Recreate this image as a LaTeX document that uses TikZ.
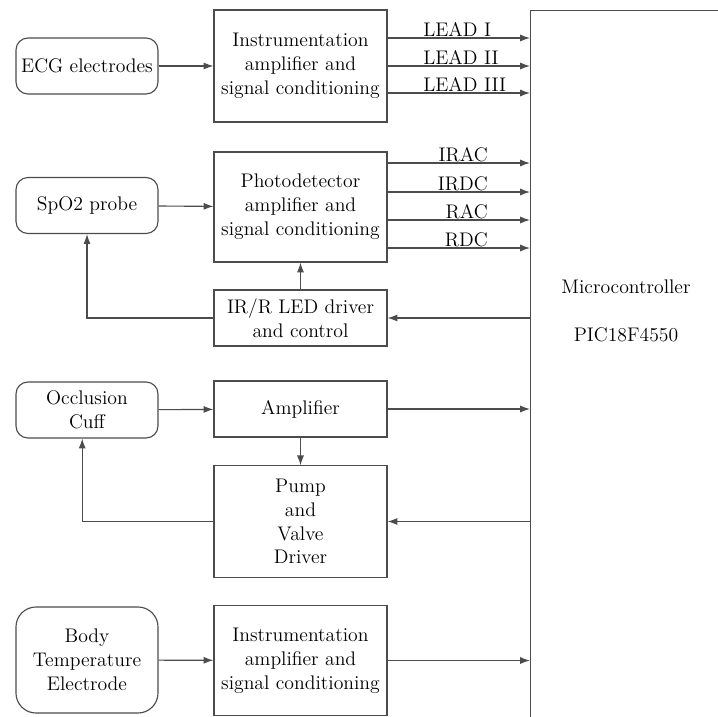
\documentclass[tikz,border=0pt]{standalone}
\usepackage{tikz}
\usetikzlibrary{arrows.meta, positioning}

\begin{document}
\begin{tikzpicture}[
  x=0.025cm, y=-0.025cm,
  every node/.style={font=\fontsize{14}{17}\selectfont, align=center},
  src/.style={draw=black!70, line width=0.8pt, rounded corners=0.3cm,
    minimum width=3.55cm, minimum height=1.4cm},
  blk/.style={draw=black!70, line width=0.8pt, minimum width=4.325cm},
  sig/.style={-{Latex[length=7pt, width=5pt]}, draw=black!70, line width=0.8pt},
  wire/.style={draw=black!70, line width=0.8pt},
  lbl/.style={inner sep=0pt},
]

\useasboundingbox (0,0) rectangle (718,717);
\fill[white] (0,0) rectangle (718,717);
\clip (0,0) rectangle (718,717);

%% Microcontroller (runs off the page)
\node[wire, minimum width=6cm, minimum height=19cm, anchor=north west]
  (mcu) at (530,10) {};
\node (mcutxt) at (626,311) {Microcontroller\\[17pt]PIC18F4550};

%% Sensors
\node[src] (ecg)  at (87,66)    {ECG electrodes};
\node[src] (spo2) at (87,205.5) {SpO2 probe};
\node[src] (cuff) at (87,410)   {Occlusion\\Cuff};
\node[src, rounded corners=0.5cm, minimum height=2.65cm]
  (body) at (87,660) {Body\\Temperature\\Electrode};

%% Signal blocks
\node[blk, minimum height=2.8cm]  (ecgamp)  at (300.5,66)
  {Instrumentation\\amplifier and\\signal conditioning};
\node[blk, minimum height=2.75cm] (pdamp)   at (300.5,207)
  {Photodetector\\amplifier and\\signal conditioning};
\node[blk, minimum height=1.4cm]  (led)     at (300.5,318)
  {IR/R LED driver\\and control};
\node[blk, minimum height=1.4cm]  (amp)     at (300.5,409) {Amplifier};
\node[blk, minimum height=2.78cm] (pump)    at (300.5,521.5)
  {Pump\\and\\Valve\\Driver};
\node[blk, minimum height=2.73cm] (tempamp) at (300.5,660.5)
  {Instrumentation\\amplifier and\\signal conditioning};

%% ECG leads
\foreach \y/\txt [count=\i] in {38/LEAD I, 66/LEAD II, 93/LEAD III} {
  \draw[sig] (ecgamp.east |- 0,\y) -- (mcu.west |- 0,\y);
  \node[lbl, anchor=base west] (lead\i) at (423,\y-2) {\txt};
}

%% SpO2 outputs
\foreach \y/\txt [count=\i] in {163/IRAC, 192/IRDC, 220/RAC, 248/RDC} {
  \draw[sig] (pdamp.east |- 0,\y) -- (mcu.west |- 0,\y);
  \node[lbl, anchor=base east] (pdout\i) at (488,\y-1.5) {\txt};
}

%% Links
\draw[sig] (ecg) -- (ecgamp);
\draw[sig] (spo2) -- (pdamp);
\draw[sig] (led) -- (pdamp);
\draw[sig] (led.west) -| (spo2.south);
\draw[sig] (mcu.west |- led.east) -- (led.east);

\draw[sig] (cuff) -- (amp);
\draw[sig] (amp.east) -- (mcu.west |- amp.east);
\draw[sig] (amp) -- (pump);
\draw[sig] (mcu.west |- pump.east) -- (pump.east);
\draw[sig] (pump.west) -| ([xshift=-0.12cm]cuff.south);

\draw[sig] (body) -- (tempamp);
\draw[sig] (tempamp.east) -- (mcu.west |- tempamp.east);

\end{tikzpicture}
\end{document}
